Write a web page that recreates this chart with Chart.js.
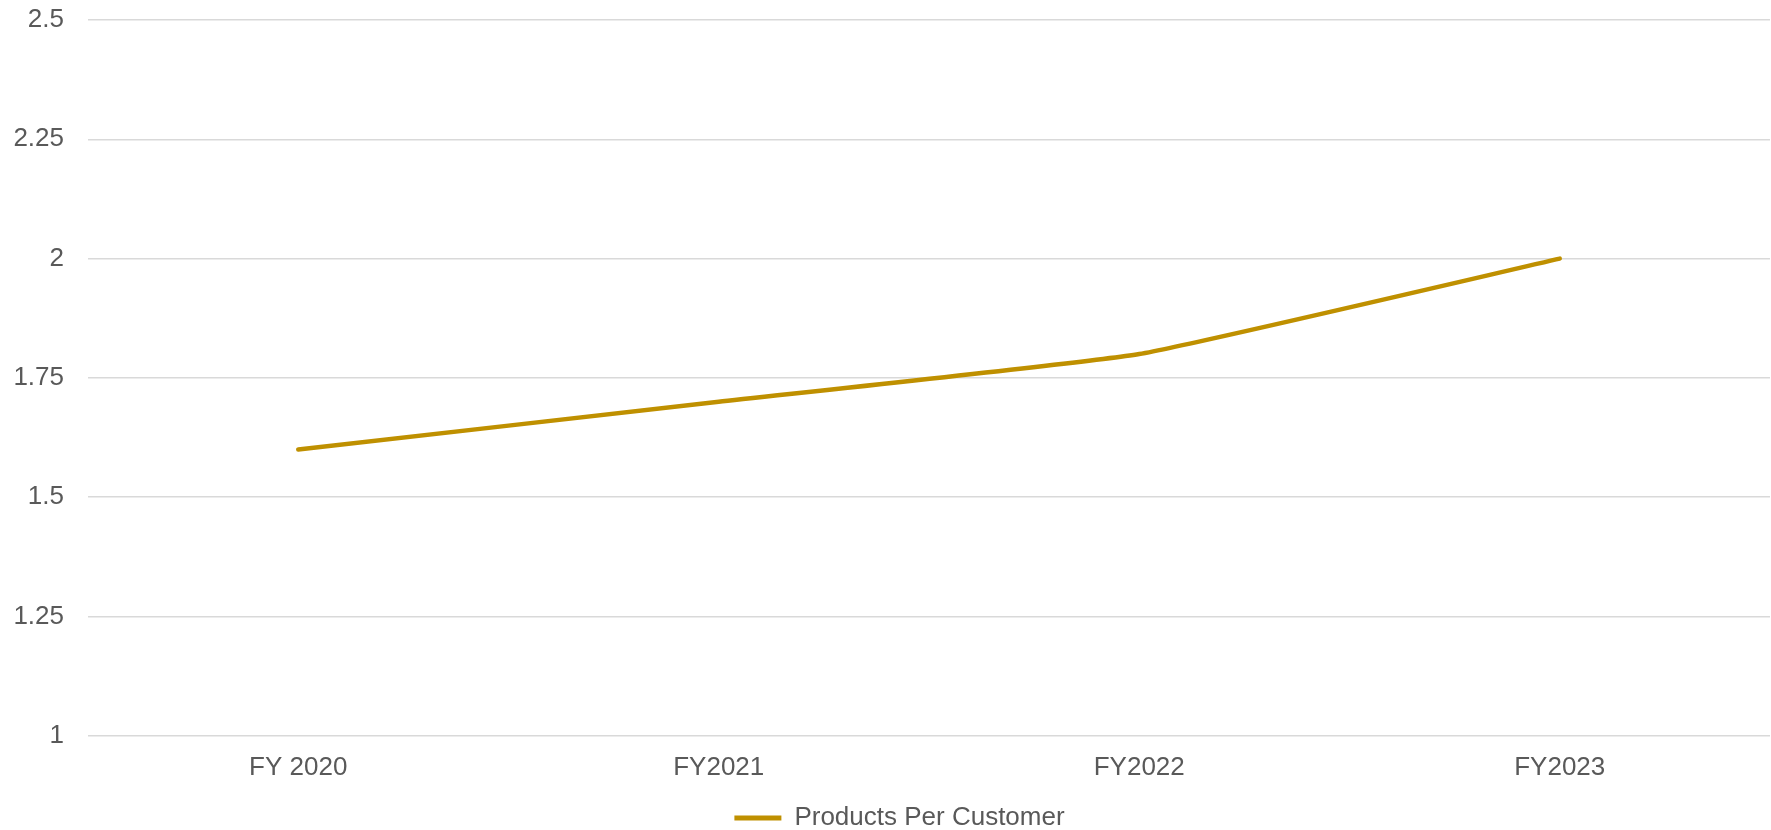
<!DOCTYPE html>
<html>
<head>
<meta charset="utf-8">
<script src="https://cdn.jsdelivr.net/npm/chart.js@4.4.0/dist/chart.umd.min.js"></script>
<style>
  html, body { margin: 0; padding: 0; background: #ffffff; }
  #wrap { width: 1771px; height: 830px; position: relative; }
</style>
</head>
<body>
<div id="wrap"><canvas id="c" width="1771" height="830"></canvas></div>
<script>
const categories = ["FY 2020", "FY2021", "FY2022", "FY2023"];
const productsPerCustomer = [1.6, 1.7, 1.8, 2.0];
const seriesName = "Products Per Customer";
const yTicks = [1, 1.25, 1.5, 1.75, 2, 2.25, 2.5];

const GOLD = "#BF9000";
const TEXT = "#595959";
const FONT = "'Liberation Sans', Arial, sans-serif";
const FS = 26;

const legendShift = {
  id: "legendShift",
  afterLayout(chart) {
    if (chart.legend) { chart.legend.left += 29; }
  }
};

new Chart(document.getElementById("c"), {
  type: "line",
  data: {
    labels: categories,
    datasets: [{
      label: seriesName,
      data: productsPerCustomer,
      borderColor: GOLD,
      backgroundColor: GOLD,
      borderWidth: 4.5,
      pointRadius: 0,
      pointHoverRadius: 0,
      tension: 0.12,
      borderCapStyle: "round",
      borderJoinStyle: "round",
      fill: false
    }]
  },
  plugins: [legendShift],
  options: {
    responsive: false,
    animation: false,
    devicePixelRatio: 1,
    layout: { padding: { top: 20, right: 1, left: 0, bottom: -11 } },
    plugins: {
      tooltip: { enabled: false },
      legend: {
        position: "bottom",
        labels: {
          color: TEXT,
          font: { family: FONT, size: FS },
          boxWidth: 47,
          boxHeight: 5,
          padding: 6,
          generateLabels(chart) {
            const items = Chart.defaults.plugins.legend.labels.generateLabels(chart);
            items.forEach(it => { it.lineWidth = 0; it.fillStyle = GOLD; it.strokeStyle = GOLD; });
            return items;
          }
        }
      }
    },
    scales: {
      x: {
        offset: true,
        grid: { display: false, drawTicks: false },
        border: { display: false },
        ticks: {
          color: TEXT,
          font: { family: FONT, size: FS },
          padding: 16,
          maxRotation: 0
        }
      },
      y: {
        min: 1,
        max: 2.5,
        afterBuildTicks(scale) { scale.ticks = yTicks.map(v => ({ value: v })); },
        afterFit(scale) { scale.width = 88; scale.paddingTop = 0; scale.paddingBottom = 0; },
        grid: { color: "#D9D9D9", lineWidth: 1.5, drawTicks: false },
        border: { display: false },
        ticks: {
          color: TEXT,
          font: { family: FONT, size: FS },
          padding: 24,
          callback(v) { return String(v); }
        }
      }
    }
  }
});
</script>
</body>
</html>
